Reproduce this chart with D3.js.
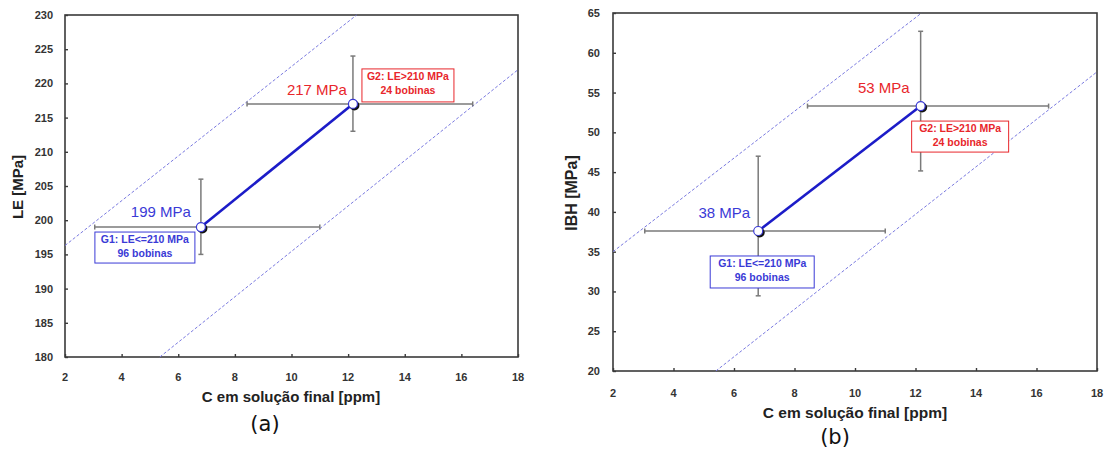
<!DOCTYPE html>
<html>
<head>
<meta charset="utf-8">
<script src="https://cdn.jsdelivr.net/npm/d3@7"></script>
<style>
  body { margin: 0; background: #fff; }
  svg { display: block; font-family: "Liberation Sans", Arial, sans-serif; }
</style>
</head>
<body>
<svg id="chart" width="1105" height="449"></svg>
<script>

// ---- data ----
var xTicks = [2, 4, 6, 8, 10, 12, 14, 16, 18];
var leTicks = [180, 185, 190, 195, 200, 205, 210, 215, 220, 225, 230];
var ibhTicks = [20, 25, 30, 35, 40, 45, 50, 55, 60, 65];

var groups = ["G1", "G2"];
var cPpm = [6.8, 12.17];
var cLow = [3.05, 8.43];
var cHigh = [11.0, 16.4];

var leMean = [199, 217];
var leLow = [195, 213];
var leHigh = [206, 224];

var ibhMean = [37.6, 53.3];
var ibhLow = [29.45, 45.15];
var ibhHigh = [47.0, 62.7];

var leLabels = ["199 MPa", "217 MPa"];
var ibhLabels = ["38 MPa", "53 MPa"];
var boxLine1 = ["G1: LE<=210 MPa", "G2: LE>210 MPa"];
var boxLine2 = ["96 bobinas", "24 bobinas"];

// dashed band limits, [x, y] end points
var leBandUpper = [[2, 196.3], [12.3, 230]];
var leBandLower = [[5.35, 180], [18, 222]];
var ibhBandUpper = [[2, 35], [12.2, 65]];
var ibhBandLower = [[5.4, 20], [18, 57.6]];

var groupColor = ["#3a3ad6", "#e8262b"];

var svg = d3.select("#chart");

drawPanel = function(cfg){

	var g = svg.append("g")
		.attr("transform", "translate(" + cfg.left + "," + cfg.top + ")");

	var x = d3.scaleLinear().domain([2, 18]).range([0, cfg.width]);
	var y = d3.scaleLinear().domain(cfg.yDomain).range([cfg.height, 0]);

	// frame
	g.append("rect")
		.attr("width", cfg.width)
		.attr("height", cfg.height)
		.attr("fill", "#fff")
		.attr("stroke", "#3a3a3a")
		.attr("stroke-width", 1.6);

	// ticks (inside)
	g.append("g")
		.attr("transform", "translate(0," + cfg.height + ")")
		.call(d3.axisBottom(x).tickValues(xTicks).tickSize(-3).tickFormat(""))
		.call(function(a){ a.select(".domain").remove(); })
		.selectAll("line").attr("stroke", "#3a3a3a").attr("stroke-width", 1.4);

	g.append("g")
		.call(d3.axisLeft(y).tickValues(cfg.yTicks).tickSize(-3).tickFormat(""))
		.call(function(a){ a.select(".domain").remove(); })
		.selectAll("line").attr("stroke", "#3a3a3a").attr("stroke-width", 1.4);

	// tick labels
	g.selectAll(".xlab")
		.data(xTicks)
		.enter().append("text")
		.attr("x", function(d){ return x(d); })
		.attr("y", cfg.height + cfg.xLabOff)
		.attr("text-anchor", "middle")
		.attr("font-size", 11)
		.attr("font-weight", "bold")
		.attr("fill", "#333")
		.text(function(d){ return d; });

	g.selectAll(".ylab")
		.data(cfg.yTicks)
		.enter().append("text")
		.attr("x", -cfg.yLabOff)
		.attr("y", function(d){ return y(d) + 4; })
		.attr("text-anchor", "end")
		.attr("font-size", 11)
		.attr("font-weight", "bold")
		.attr("fill", "#333")
		.text(function(d){ return d; });

	// axis titles
	g.append("text")
		.attr("x", cfg.xTitleX)
		.attr("y", cfg.height + cfg.xTitleOff)
		.attr("text-anchor", "middle")
		.attr("font-size", cfg.titleSize)
		.attr("font-weight", "bold")
		.attr("fill", "#222")
		.text("C em solução final [ppm]");

	g.append("text")
		.attr("transform", "translate(" + (-cfg.yTitleOff) + "," + cfg.yTitleY + ") rotate(-90)")
		.attr("text-anchor", "middle")
		.attr("font-size", cfg.yTitleSize)
		.attr("font-weight", "bold")
		.attr("fill", "#222")
		.text(cfg.yTitle);

	var plot = g.append("g");

	// dashed band
	var line = d3.line()
		.x(function(d){ return x(d[0]); })
		.y(function(d){ return y(d[1]); });

	[cfg.bandUpper, cfg.bandLower].forEach(function(b){
		plot.append("path")
			.datum(b)
			.attr("d", line)
			.attr("fill", "none")
			.attr("stroke", "#7a7ae0")
			.attr("stroke-width", 1)
			.attr("stroke-dasharray", "3,2");
	});

	// error bars
	var cap = 2.5;
	groups.forEach(function(gr, i){
		var px = x(cPpm[i]), py = y(cfg.mean[i]);
		var eb = plot.append("g").attr("stroke", "#7a7a7a").attr("stroke-width", 1.5);
		eb.append("line")
			.attr("x1", x(cLow[i])).attr("x2", x(cHigh[i]))
			.attr("y1", py).attr("y2", py);
		eb.append("line")
			.attr("x1", px).attr("x2", px)
			.attr("y1", y(cfg.low[i])).attr("y2", y(cfg.high[i]));
		eb.append("line")
			.attr("x1", px - cap).attr("x2", px + cap)
			.attr("y1", y(cfg.low[i])).attr("y2", y(cfg.low[i]));
		eb.append("line")
			.attr("x1", px - cap).attr("x2", px + cap)
			.attr("y1", y(cfg.high[i])).attr("y2", y(cfg.high[i]));
		eb.append("line")
			.attr("x1", x(cLow[i])).attr("x2", x(cLow[i]))
			.attr("y1", py - cap).attr("y2", py + cap);
		eb.append("line")
			.attr("x1", x(cHigh[i])).attr("x2", x(cHigh[i]))
			.attr("y1", py - cap).attr("y2", py + cap);
	});

	// mean line
	plot.append("path")
		.datum(groups.map(function(d, i){ return [cPpm[i], cfg.mean[i]]; }))
		.attr("d", line)
		.attr("fill", "none")
		.attr("stroke", "#1c1cc8")
		.attr("stroke-width", 2.6);

	// markers with shadow
	groups.forEach(function(gr, i){
		plot.append("circle")
			.attr("cx", x(cPpm[i]) + 1.5)
			.attr("cy", y(cfg.mean[i]) + 1.5)
			.attr("r", 5)
			.attr("fill", "#111");
		plot.append("circle")
			.attr("cx", x(cPpm[i]))
			.attr("cy", y(cfg.mean[i]))
			.attr("r", 4.5)
			.attr("fill", "#fff")
			.attr("stroke", "#3a3ad6")
			.attr("stroke-width", 1.2);
	});

	// value labels
	groups.forEach(function(gr, i){
		plot.append("text")
			.attr("x", x(cPpm[i]) + cfg.valOff[i][0])
			.attr("y", y(cfg.mean[i]) + cfg.valOff[i][1])
			.attr("text-anchor", "end")
			.attr("font-size", 15)
			.attr("fill", groupColor[i])
			.text(cfg.labels[i]);
	});

	// group boxes
	groups.forEach(function(gr, i){
		var b = cfg.boxes[i];
		var bx = x(cPpm[i]) + b[0], by = y(cfg.mean[i]) + b[1];
		var box = plot.append("g");
		box.append("rect")
			.attr("x", bx).attr("y", by)
			.attr("width", b[2]).attr("height", b[3])
			.attr("fill", "#fff")
			.attr("stroke", groupColor[i])
			.attr("stroke-width", 1);
		box.append("text")
			.attr("x", bx + b[2] / 2).attr("y", by + 11)
			.attr("text-anchor", "middle")
			.attr("font-size", 10.5).attr("font-weight", "bold")
			.attr("fill", groupColor[i])
			.text(boxLine1[i]);
		box.append("text")
			.attr("x", bx + b[2] / 2).attr("y", by + 25)
			.attr("text-anchor", "middle")
			.attr("font-size", 10.5).attr("font-weight", "bold")
			.attr("fill", groupColor[i])
			.text(boxLine2[i]);
	});

	// panel tag
	svg.append("text")
		.attr("x", cfg.tag[0])
		.attr("y", cfg.tag[1])
		.attr("text-anchor", "middle")
		.attr("font-family", "DejaVu Sans, sans-serif")
		.attr("font-size", 21)
		.attr("fill", "#111")
		.text(cfg.tagText);
}

drawPanel({
	left: 65, top: 15, width: 453, height: 342,
	yDomain: [180, 230], yTicks: leTicks,
	mean: leMean, low: leLow, high: leHigh,
	bandUpper: leBandUpper, bandLower: leBandLower,
	labels: leLabels,
	valOff: [[-10, -10], [-6, -9]],
	boxes: [[-106, 5, 100, 31], [9, -35, 92, 33]],
	xLabOff: 24, yLabOff: 12,
	xTitleX: 226, xTitleOff: 45, titleSize: 15,
	yTitle: "LE [MPa]", yTitleOff: 42, yTitleY: 172, yTitleSize: 15,
	tag: [265, 431], tagText: "(a)"
});

drawPanel({
	left: 613, top: 13, width: 484, height: 358,
	yDomain: [20, 65], yTicks: ibhTicks,
	mean: ibhMean, low: ibhLow, high: ibhHigh,
	bandUpper: ibhBandUpper, bandLower: ibhBandLower,
	labels: ibhLabels,
	valOff: [[-8, -13], [-11, -13]],
	boxes: [[-48, 25, 104, 32], [-9, 15, 97, 31]],
	xLabOff: 26, yLabOff: 13,
	xTitleX: 242, xTitleOff: 47, titleSize: 15.5,
	yTitle: "IBH [MPa]", yTitleOff: 36, yTitleY: 180, yTitleSize: 16,
	tag: [835, 444], tagText: "(b)"
});

</script>
</body>
</html>
